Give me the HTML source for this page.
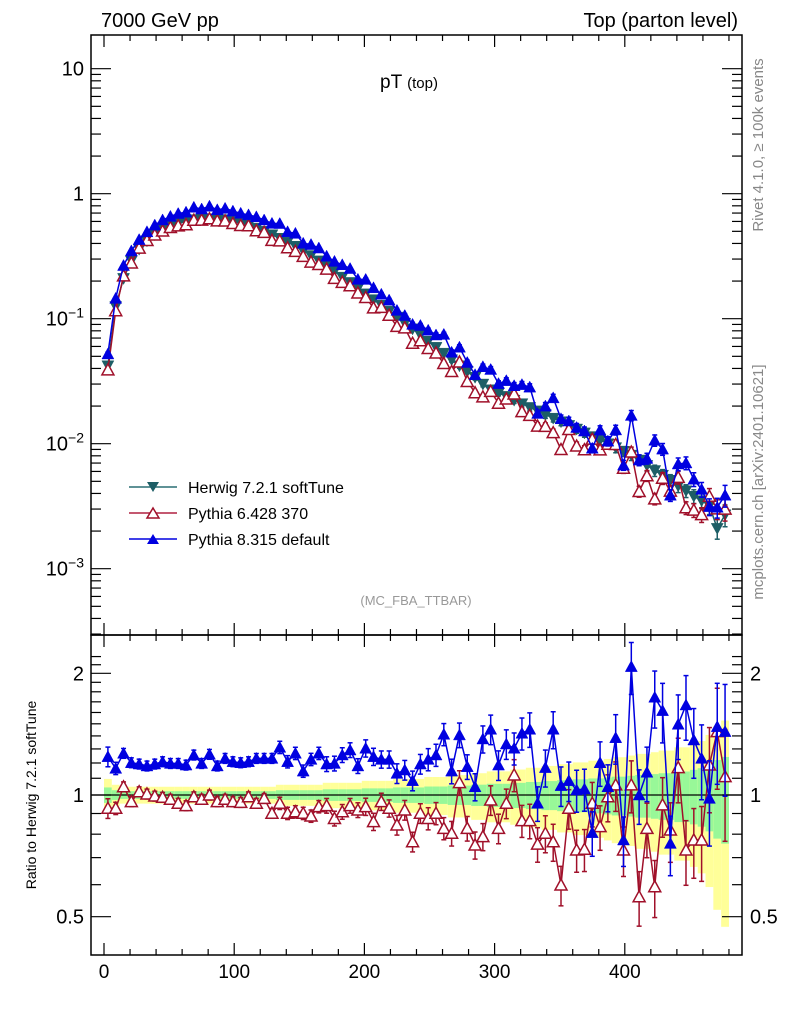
<!DOCTYPE html>
<html><head><meta charset="utf-8"><style>
html,body{margin:0;padding:0;background:#fff;}
svg{display:block;font-family:"Liberation Sans",sans-serif;}
</style></head><body>
<svg id="chart" width="786" height="1024" viewBox="0 0 786 1024" xmlns="http://www.w3.org/2000/svg">
<g id="bands"></g>
<g id="grid"></g>
<g id="series"></g>
<text x="101" y="27" font-size="20">7000 GeV pp</text>
<text x="738" y="27" font-size="20" text-anchor="end">Top (parton level)</text>
<text x="380" y="88" font-size="19">pT <tspan font-size="15">(top)</tspan></text>
<text x="416" y="605" font-size="13" fill="#999" text-anchor="middle">(MC_FBA_TTBAR)</text>
<text transform="translate(763,145) rotate(-90)" font-size="15" fill="#888" text-anchor="middle">Rivet 4.1.0, ≥ 100k events</text>
<text transform="translate(763,482) rotate(-90)" font-size="15" fill="#888" text-anchor="middle">mcplots.cern.ch [arXiv:2401.10621]</text>
<text transform="translate(36,795) rotate(-90)" font-size="14" text-anchor="middle">Ratio to Herwig 7.2.1 softTune</text>
<g>
<g><line x1="129" y1="487" x2="177" y2="487" stroke="#2a6f74" stroke-width="1.5"/><polygon points="147,482 159,482 153,492" fill="#1d5e66"/><text x="188" y="493" font-size="16">Herwig 7.2.1 softTune</text></g>
<g><line x1="129" y1="513" x2="177" y2="513" stroke="#b02040" stroke-width="1.5"/><polygon points="147,518 159,518 153,508" fill="#fff" stroke="#a0102a" stroke-width="1.5"/><text x="188" y="519" font-size="16">Pythia 6.428 370</text></g>
<g><line x1="129" y1="539" x2="177" y2="539" stroke="#0000e0" stroke-width="1.5"/><polygon points="147,544 159,544 153,534" fill="#0000e0"/><text x="188" y="545" font-size="16">Pythia 8.315 default</text></g>
</g>
</svg>
<script>
const binCenters=[3,9,15,21,27,33,39,45,51,57,63,69,75,81,87,93,99,105,111,117,123,129,135,141,147,153,159,165,171,177,183,189,195,201,207,213,219,225,231,237,243,249,255,261,267,273,279,285,291,297,303,309,315,321,327,333,339,345,351,357,363,369,375,381,387,393,399,405,411,417,423,429,435,441,447,453,459,465,471,477];
const herwig=[0.042,0.125,0.21,0.29,0.36,0.42,0.47,0.51,0.55,0.58,0.60,0.62,0.63,0.63,0.63,0.62,0.60,0.58,0.56,0.53,0.50,0.47,0.44,0.41,0.38,0.35,0.32,0.29,0.265,0.24,0.215,0.195,0.175,0.158,0.142,0.128,0.115,0.103,0.092,0.083,0.074,0.066,0.059,0.053,0.047,0.042,0.038,0.034,0.030,0.027,0.0255,0.0239,0.0223,0.0209,0.0195,0.0183,0.0171,0.0160,0.0150,0.0140,0.0131,0.0122,0.0114,0.0107,0.0100,0.0093,0.0087,0.0081,0.0074,0.0067,0.0061,0.0056,0.0051,0.0046,0.0042,0.0038,0.0035,0.0032,0.0021,0.0027];
const p6Ratio=[0.927,0.927,1.048,0.963,1.019,1.006,0.994,0.987,0.976,0.954,0.941,0.990,0.976,1.0,0.963,0.976,0.963,0.959,0.990,0.954,0.981,0.901,0.954,0.901,0.909,0.901,0.887,0.936,0.941,0.875,0.909,0.941,0.918,0.936,0.859,0.963,0.927,0.843,0.918,0.766,0.901,0.875,0.901,0.827,0.804,1.073,0.827,0.752,0.789,0.972,0.827,0.954,1.121,0.864,0.864,0.756,0.804,0.766,0.599,0.927,0.731,0.734,0.954,0.835,0.990,1.059,0.731,1.059,0.560,0.827,0.593,0.945,0.819,1.169,0.731,0.774,0.774,1.186,1.435,1.110];
const p8Ratio=[1.244,1.164,1.268,1.202,1.193,1.180,1.193,1.209,1.197,1.197,1.186,1.256,1.197,1.261,1.180,1.232,1.209,1.202,1.209,1.232,1.232,1.232,1.312,1.209,1.268,1.146,1.225,1.268,1.193,1.197,1.256,1.292,1.180,1.305,1.244,1.225,1.225,1.131,1.153,1.085,1.193,1.225,1.256,1.413,1.146,1.408,1.175,1.048,1.376,1.454,1.186,1.337,1.305,1.421,1.454,0.954,1.169,1.454,1.055,1.085,1.029,1.035,0.807,1.202,1.048,1.386,0.774,2.078,1.0,1.138,1.745,1.617,0.759,1.496,1.670,1.368,1.232,0.981,1.476,1.435];
const relErr=[0.04,0.025,0.02,0.02,0.02,0.02,0.02,0.02,0.02,0.02,0.02,0.02,0.02,0.02,0.02,0.02,0.02,0.02,0.02,0.02,0.02,0.02,0.025,0.025,0.025,0.025,0.025,0.025,0.03,0.03,0.03,0.03,0.03,0.035,0.035,0.035,0.035,0.04,0.04,0.04,0.04,0.045,0.045,0.045,0.05,0.05,0.05,0.055,0.055,0.06,0.06,0.06,0.065,0.065,0.07,0.07,0.075,0.075,0.08,0.08,0.085,0.085,0.09,0.09,0.095,0.1,0.1,0.105,0.11,0.11,0.115,0.12,0.12,0.13,0.13,0.14,0.15,0.17,0.2,0.22];
const xTicks=[0,100,200,300,400];
const mainTicks=[10,1,0.1,0.01,0.001];
const mainTickLabels=["10","1","10^-1","10^-2","10^-3"];
const ratioTicks=[2,1,0.5];
const ratioTickLabels=["2","1","0.5"];
const binWidth=6;

const NS="http://www.w3.org/2000/svg";
const L=91,R=742,MT=35,MB=635,RT=635,RB=955;
const X=v=>104+1.302*v;
const YM=v=>193.7-125*Math.log10(v);
const YR=v=>795-121.7*Math.log2(v);
function mk(tag,attrs,parent){const e=document.createElementNS(NS,tag);for(const k in attrs)e.setAttribute(k,attrs[k]);parent.appendChild(e);return e;}
const grid=document.getElementById('grid'),bands=document.getElementById('bands'),series=document.getElementById('series');

// bands
for(let i=0;i<binCenters.length;i++){
  const x0=X(binCenters[i]-binWidth/2),x1=X(binCenters[i]+binWidth/2);
  const e=relErr[i];
  const ry=mk('rect',{x:x0,y:YR(1+2.4*e),width:x1-x0,height:YR(Math.max(0.3,1-2.4*e))-YR(1+2.4*e),fill:'#ffff99'},bands);
  
  
  const rg=mk('rect',{x:x0,y:YR(1+e*1.1),width:x1-x0,height:YR(1-e*1.1)-YR(1+e*1.1),fill:'#98f898'},bands);
  
  
}
// frames
mk('rect',{x:L,y:MT,width:R-L,height:MB-MT,fill:'none',stroke:'#000','stroke-width':1.5},grid);
mk('rect',{x:L,y:RT,width:R-L,height:RB-RT,fill:'none',stroke:'#000','stroke-width':1.5},grid);
mk('line',{x1:L,y1:YR(1),x2:R,y2:YR(1),stroke:'#000','stroke-width':1.2},grid);
// x ticks
for(let v=-0;v<=480;v+=20){
  const big=v%100===0,x=X(v),len=big?12:6;
  [[MT,1],[MB,-1],[RT,1],[RB,-1]].forEach(([y,d])=>mk('line',{x1:x,y1:y,x2:x,y2:y+d*len,stroke:'#000','stroke-width':1.2},grid));
}
xTicks.forEach(v=>{const t=mk('text',{x:X(v),y:978,'font-size':19,'text-anchor':'middle'},grid);t.textContent=String(v);});
// main y ticks
for(let d=-4;d<=1;d++){for(let m=1;m<10;m++){const v=m*Math.pow(10,d);const y=YM(v);if(y<MT||y>MB)continue;const len=m===1?20:10;
  mk('line',{x1:L,y1:y,x2:L+len,y2:y,stroke:'#000','stroke-width':1.2},grid);mk('line',{x1:R,y1:y,x2:R-len,y2:y,stroke:'#000','stroke-width':1.2},grid);}}
mainTicks.forEach((v,i)=>{const lab=mainTickLabels[i];const t=mk('text',{x:84,y:YM(v)+7,'font-size':20,'text-anchor':'end'},grid);
  
  if(lab.indexOf('^')>=0){const p=lab.split('^');t.textContent=p[0];const s=mk('tspan',{dy:-8,'font-size':14},t);s.textContent=p[1].replace('-','\u2212');}else t.textContent=lab;});
// ratio y ticks
for(let v=0.4;v<=2.3;v+=0.1){const y=YR(v);if(y<RT||y>RB)continue;const big=Math.abs(v-1)<1e-6||Math.abs(v-2)<1e-6||Math.abs(v-0.5)<1e-6;const len=big?20:10;
  mk('line',{x1:L,y1:y,x2:L+len,y2:y,stroke:'#000','stroke-width':1.2},grid);mk('line',{x1:R,y1:y,x2:R-len,y2:y,stroke:'#000','stroke-width':1.2},grid);}
ratioTicks.forEach((v,i)=>{const t=mk('text',{x:84,y:YR(v)+7,'font-size':20,'text-anchor':'end'},grid);t.textContent=ratioTickLabels[i];
  const t2=mk('text',{x:750,y:YR(v)+7,'font-size':20},grid);t2.textContent=ratioTickLabels[i];});

function tri(g,x,y,down,fill,stroke){const s=6;const pts=down?`${x-s},${y-5} ${x+s},${y-5} ${x},${y+6}`:`${x-s},${y+5} ${x+s},${y+5} ${x},${y-6}`;
  const p=mk('polygon',{points:pts,fill:fill,stroke:stroke,'stroke-width':fill==='#fff'?1.5:0.5},g);return p;}
function drawSeries(name,vals,errs,Y,color,down,open,clipTop,clipBot){
  const g=mk('g',{},series);
  let d='';vals.forEach((v,i)=>{d+=(i?'L':'M')+X(binCenters[i]).toFixed(1)+','+Y(v).toFixed(1);});
  mk('path',{d:d,fill:'none',stroke:color,'stroke-width':1.5},g);
  vals.forEach((v,i)=>{const x=X(binCenters[i]);const e=errs[i];
    const y1=Math.max(clipTop,Y(v*(1+e))),y2=Math.min(clipBot,Y(Math.max(v*(1-e),1e-9)));
    if(y2-y1>3){mk('line',{x1:x,y1:y1,x2:x,y2:y2,stroke:color,'stroke-width':1.5},g);
      mk('line',{x1:x-2.5,y1:y1,x2:x+2.5,y2:y1,stroke:color,'stroke-width':1.5},g);mk('line',{x1:x-2.5,y1:y2,x2:x+2.5,y2:y2,stroke:color,'stroke-width':1.5},g);}
    const m=tri(g,x,Y(v),down,open?'#fff':color,color);
    
    
  });
}
const p6Main=herwig.map((h,i)=>h*p6Ratio[i]);
const p8Main=herwig.map((h,i)=>h*p8Ratio[i]);
const mainErr=relErr.map(e=>e*0.9);
const rErr6=relErr.map((e,i)=>e*1.4);
const rErr8=relErr.map((e,i)=>e*1.4);
drawSeries('herwig-main',herwig,mainErr,YM,'#1d5e66',true,false,MT,MB);
drawSeries('pythia6-main',p6Main,mainErr,YM,'#a0102a',false,true,MT,MB);
drawSeries('pythia8-main',p8Main,mainErr,YM,'#0000e0',false,false,MT,MB);
drawSeries('pythia6-ratio',p6Ratio,rErr6,YR,'#a0102a',false,true,RT,RB);
drawSeries('pythia8-ratio',p8Ratio,rErr8,YR,'#0000e0',false,false,RT,RB);
</script>
</body></html>
